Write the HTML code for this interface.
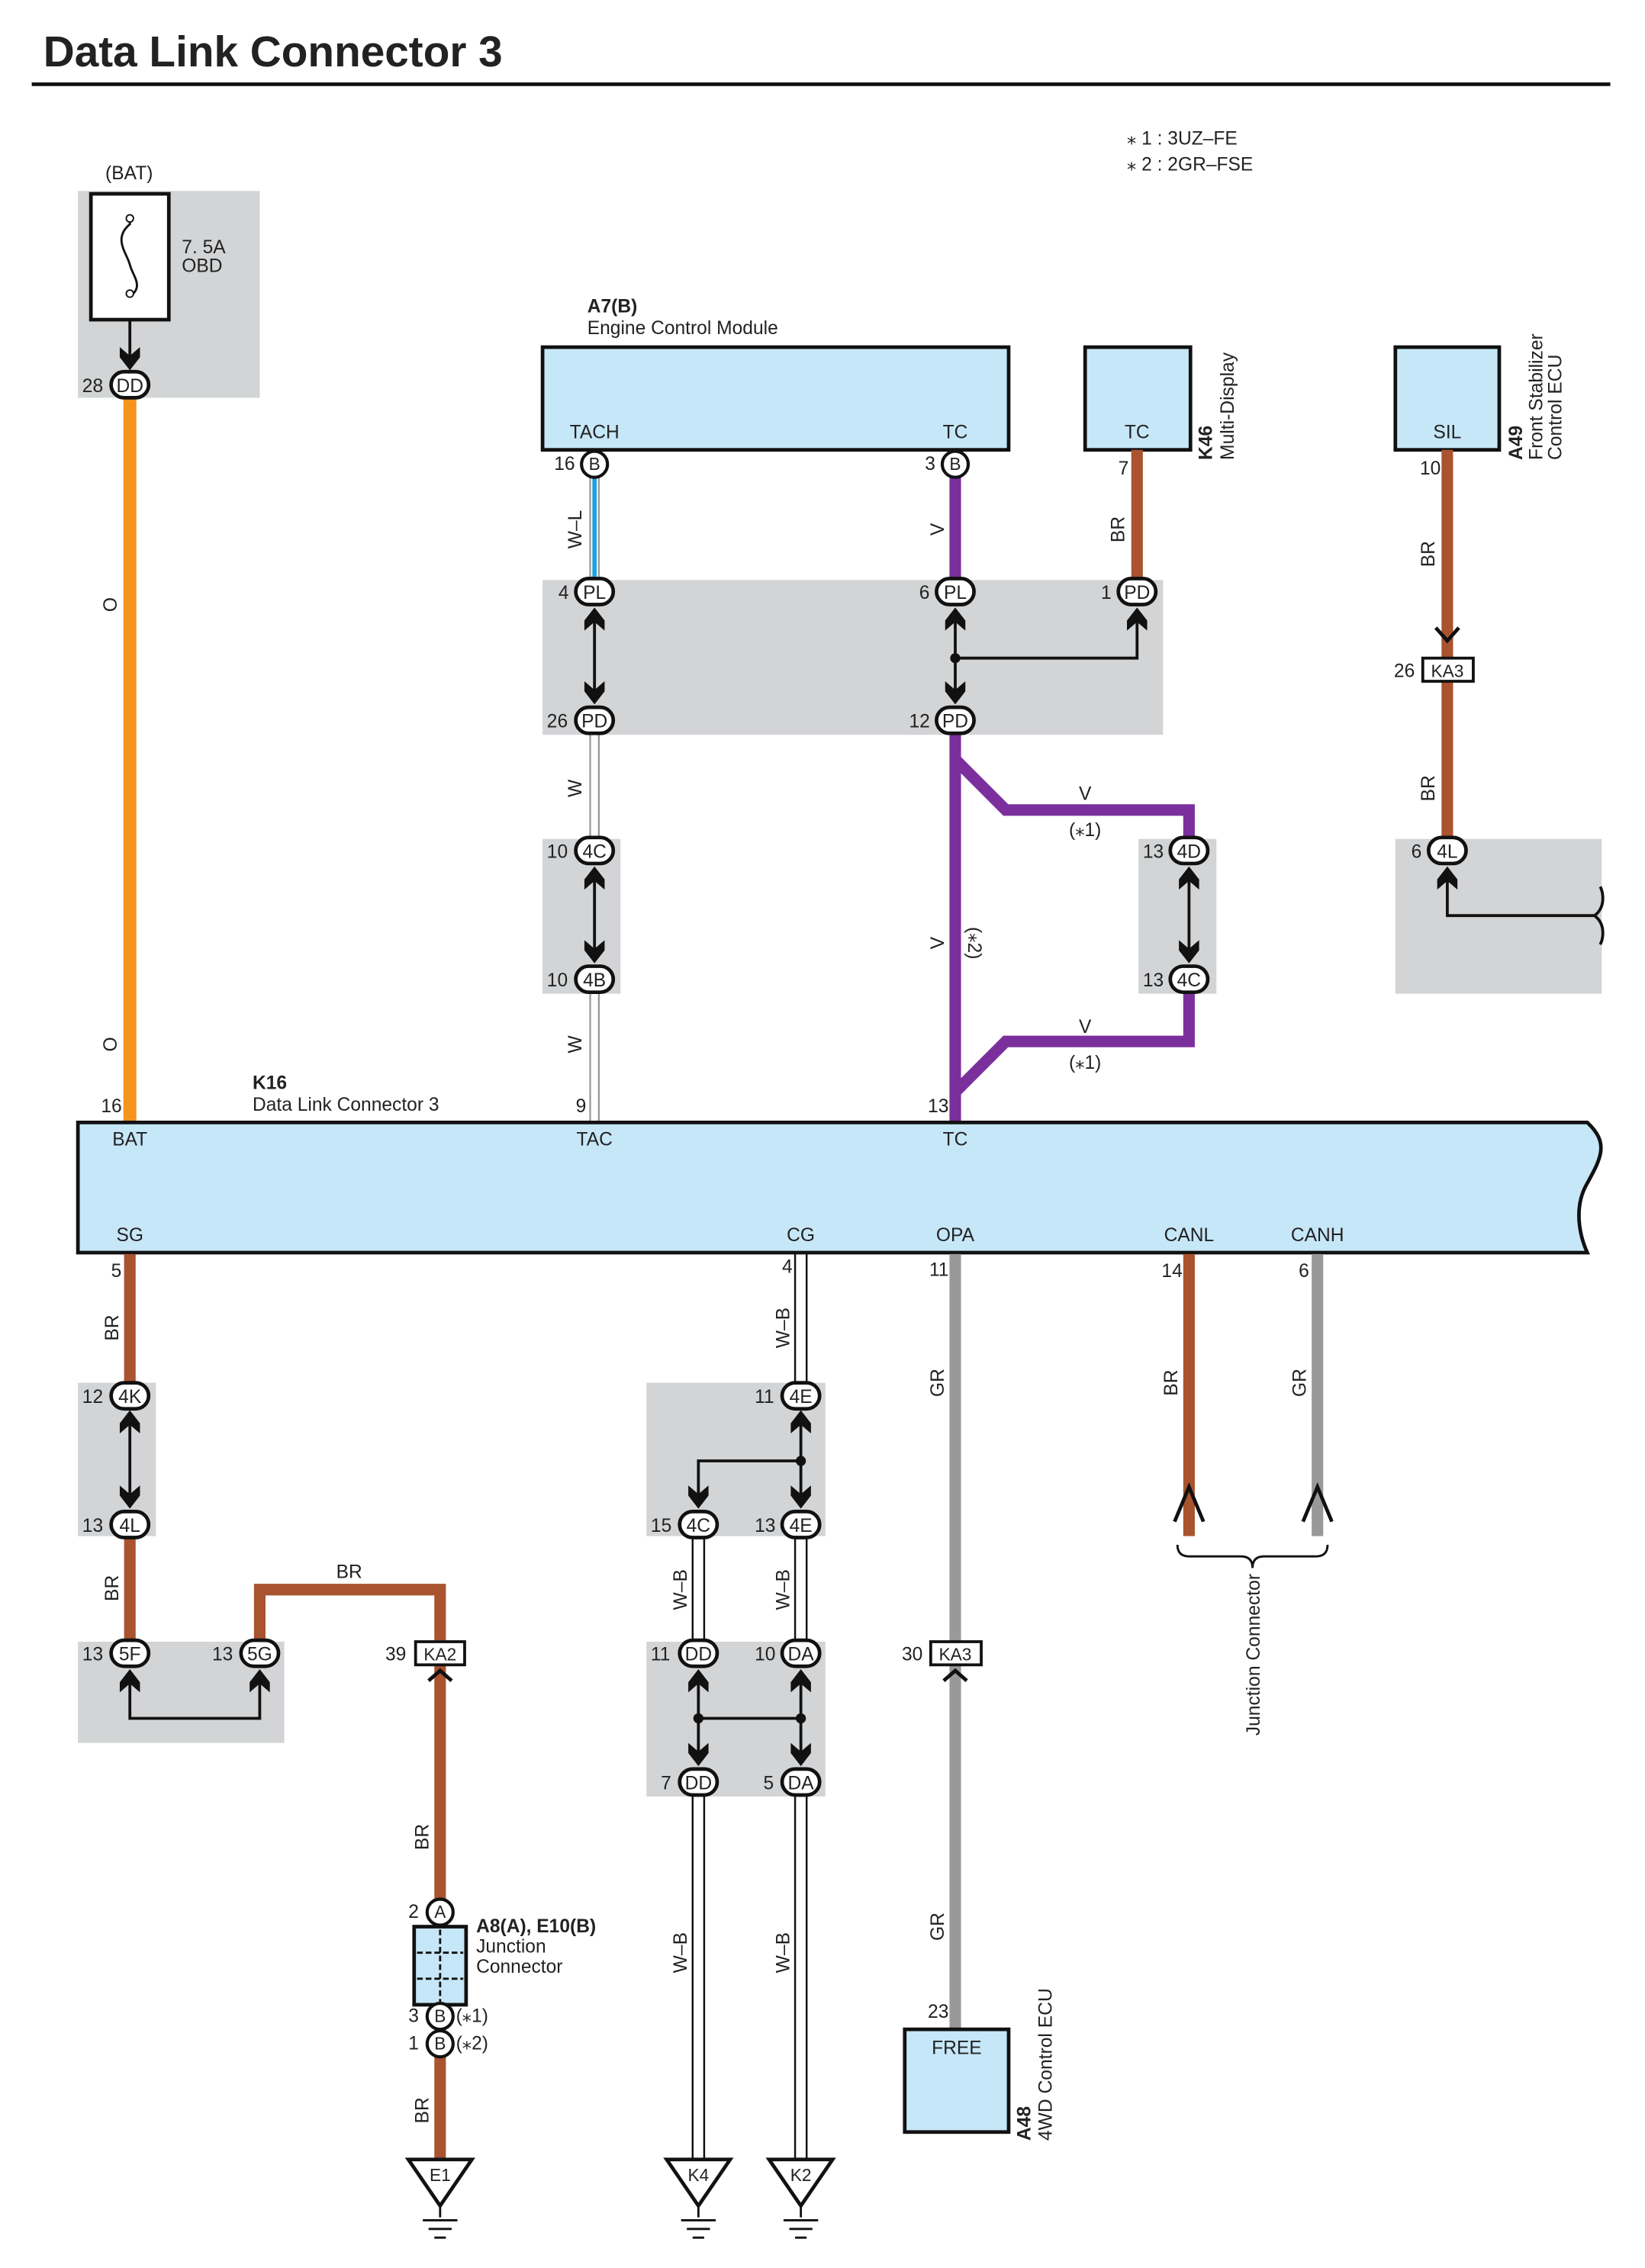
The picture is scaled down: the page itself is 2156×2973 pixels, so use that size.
<!DOCTYPE html>
<html><head><meta charset="utf-8"><style>
html,body{margin:0;padding:0;background:#fff}
svg{display:block}
text{font-family:"Liberation Sans",sans-serif;fill:#222}
</style></head><body>
<svg width="2156" height="2973" viewBox="0 0 1140 1568" preserveAspectRatio="none" xmlns="http://www.w3.org/2000/svg">
<defs>
<polygon id="au" points="0,0 7,9 7,16 0,10 -7,16 -7,9" fill="#111"/>
<polygon id="ad" points="0,0 7,-9 7,-16 0,-10 -7,-16 -7,-9" fill="#111"/>
<rect id="ov" x="-13" y="-9" width="26" height="18" rx="9" fill="#fff" stroke="#111" stroke-width="2.5"/>
<circle id="cb" r="9" fill="#fff" stroke="#111" stroke-width="2.2"/>
</defs>
<g font-size="13">
<text x="30" y="46" font-size="30" font-weight="bold" fill="#111">Data Link Connector 3</text>
<rect x="22" y="57" width="1094" height="2.5" fill="#111"/>
<text x="781" y="100">⁎ 1 : 3UZ–FE</text>
<text x="781" y="118">⁎ 2 : 2GR–FSE</text>

<g fill="#d3d4d6">
<rect x="54" y="132" width="126" height="143"/>
<rect x="376" y="401" width="430" height="107"/>
<rect x="376" y="580" width="54" height="107"/>
<rect x="789" y="580" width="54" height="107"/>
<rect x="967" y="580" width="143" height="107"/>
<rect x="54" y="956" width="54" height="106"/>
<rect x="54" y="1135" width="143" height="70"/>
<rect x="448" y="956" width="124" height="106"/>
<rect x="448" y="1135" width="124" height="107"/>
</g>

<text x="73" y="124">(BAT)</text>
<rect x="63" y="134" width="54" height="87" fill="#fff" stroke="#111" stroke-width="2.5"/>
<path d="M90 150 v5 c-12 10 -2 20 0 28 c2 8 10 15 0 22" fill="none" stroke="#111" stroke-width="1.5"/>
<circle cx="90" cy="151" r="2.5" fill="#fff" stroke="#111"/><circle cx="90" cy="203" r="2.5" fill="#fff" stroke="#111"/>
<text x="126" y="175">7. 5A</text><text x="126" y="188">OBD</text>
<line x1="90" y1="221" x2="90" y2="252" stroke="#111" stroke-width="2"/>
<use href="#ad" x="90" y="256"/>
<rect x="85.5" y="275" width="9" height="501" fill="#f7941d"/>
<use href="#ov" x="90" y="266"/><text x="90" y="271" text-anchor="middle">DD</text><text x="57" y="271">28</text>
<text transform="translate(81,418) rotate(-90)" text-anchor="middle">O</text>
<text transform="translate(81,722) rotate(-90)" text-anchor="middle">O</text>

<text x="407" y="216" font-weight="bold">A7(B)</text>
<text x="407" y="231">Engine Control Module</text>
<rect x="376" y="240" width="323" height="71" fill="#c6e7f8" stroke="#111" stroke-width="2.5"/>
<text x="412" y="303" text-anchor="middle">TACH</text><text x="662" y="303" text-anchor="middle">TC</text>
<rect x="752" y="240" width="73" height="71" fill="#c6e7f8" stroke="#111" stroke-width="2.5"/>
<text x="788" y="303" text-anchor="middle">TC</text>
<text transform="translate(840,318) rotate(-90)"><tspan font-weight="bold">K46</tspan></text>
<text transform="translate(855,318) rotate(-90)">Multi-Display</text>
<rect x="967" y="240" width="72" height="71" fill="#c6e7f8" stroke="#111" stroke-width="2.5"/>
<text x="1003" y="303" text-anchor="middle">SIL</text>
<text transform="translate(1055,318) rotate(-90)" font-weight="bold">A49</text>
<text transform="translate(1069,318) rotate(-90)">Front Stabilizer</text>
<text transform="translate(1082,318) rotate(-90)">Control ECU</text>

<g stroke="#999" stroke-width="1.2">
<line x1="409" y1="330" x2="409" y2="400"/><line x1="415" y1="330" x2="415" y2="400"/>
<line x1="409" y1="508" x2="409" y2="580"/><line x1="415" y1="508" x2="415" y2="580"/>
<line x1="409" y1="687" x2="409" y2="776"/><line x1="415" y1="687" x2="415" y2="776"/>
</g>
<line x1="412" y1="330" x2="412" y2="400" stroke="#1ba1e2" stroke-width="3"/>
<text transform="translate(403,366) rotate(-90)" text-anchor="middle">W–L</text>
<text transform="translate(403,545) rotate(-90)" text-anchor="middle">W</text>
<text transform="translate(403,722) rotate(-90)" text-anchor="middle">W</text>
<use href="#cb" x="412" y="321"/><text x="412" y="325" text-anchor="middle" font-size="12">B</text><text x="384" y="325">16</text>
<use href="#au" x="412" y="420"/><use href="#ad" x="412" y="487"/><line x1="412" y1="428" x2="412" y2="480" stroke="#111" stroke-width="2"/>
<use href="#ov" x="412" y="409"/><text x="412" y="414" text-anchor="middle">PL</text><text x="387" y="414">4</text>
<use href="#ov" x="412" y="498"/><text x="412" y="503" text-anchor="middle">PD</text><text x="379" y="503">26</text>
<use href="#au" x="412" y="599"/><use href="#ad" x="412" y="666"/><line x1="412" y1="607" x2="412" y2="659" stroke="#111" stroke-width="2"/>
<use href="#ov" x="412" y="588"/><text x="412" y="593" text-anchor="middle">4C</text><text x="379" y="593">10</text>
<use href="#ov" x="412" y="677"/><text x="412" y="682" text-anchor="middle">4B</text><text x="379" y="682">10</text>

<g fill="none" stroke="#7b2f9c" stroke-width="8">
<line x1="662" y1="330" x2="662" y2="400"/>
<line x1="662" y1="508" x2="662" y2="776"/>
<polyline points="662,525 697,560 824,560 824,580"/>
<polyline points="824,687 824,720 697,720 662,755"/>
</g>
<text transform="translate(654,366) rotate(-90)" text-anchor="middle">V</text>
<text transform="translate(654,652) rotate(-90)" text-anchor="middle">V</text>
<text transform="translate(671,652) rotate(90)" text-anchor="middle">(⁎2)</text>
<text x="752" y="553" text-anchor="middle">V</text><text x="752" y="578" text-anchor="middle">(⁎1)</text>
<text x="752" y="714" text-anchor="middle">V</text><text x="752" y="739" text-anchor="middle">(⁎1)</text>
<use href="#cb" x="662" y="321"/><text x="662" y="325" text-anchor="middle" font-size="12">B</text><text x="641" y="325">3</text>
<line x1="662" y1="428" x2="662" y2="480" stroke="#111" stroke-width="2"/>
<use href="#au" x="662" y="420"/><use href="#ad" x="662" y="487"/>
<circle cx="662" cy="455" r="3.5" fill="#111"/>
<polyline points="662,455 788,455 788,428" fill="none" stroke="#111" stroke-width="2"/>
<use href="#au" x="788" y="420"/>
<use href="#ov" x="662" y="409"/><text x="662" y="414" text-anchor="middle">PL</text><text x="637" y="414">6</text>
<use href="#ov" x="662" y="498"/><text x="662" y="503" text-anchor="middle">PD</text><text x="630" y="503">12</text>
<rect x="784" y="311" width="8" height="89" fill="#a9532f"/>
<text transform="translate(779,366) rotate(-90)" text-anchor="middle">BR</text><text x="775" y="328">7</text>
<use href="#ov" x="788" y="409"/><text x="788" y="414" text-anchor="middle">PD</text><text x="763" y="414">1</text>
<line x1="824" y1="607" x2="824" y2="659" stroke="#111" stroke-width="2"/>
<use href="#au" x="824" y="599"/><use href="#ad" x="824" y="666"/>
<use href="#ov" x="824" y="588"/><text x="824" y="593" text-anchor="middle">4D</text><text x="792" y="593">13</text>
<use href="#ov" x="824" y="677"/><text x="824" y="682" text-anchor="middle">4C</text><text x="792" y="682">13</text>

<rect x="999" y="311" width="8" height="268" fill="#a9532f"/>
<text transform="translate(994,383) rotate(-90)" text-anchor="middle">BR</text>
<text transform="translate(994,545) rotate(-90)" text-anchor="middle">BR</text><text x="984" y="328">10</text>
<polyline points="995,434 1003,443 1011,434 M995,441 1003,450 1011,441" fill="none" stroke="#111" stroke-width="2.5"/>
<rect x="986" y="455" width="35" height="16" fill="#fff" stroke="#111" stroke-width="2"/>
<text x="1003" y="468" text-anchor="middle" font-size="12">KA3</text><text x="966" y="468">26</text>
<polyline points="1003,605 1003,633 1105,633" fill="none" stroke="#111" stroke-width="2"/>
<use href="#au" x="1003" y="599"/>
<path d="M1105,633 c8,-6 6,-16 4,-20 M1105,633 c8,6 6,16 4,20" fill="none" stroke="#111" stroke-width="2"/>
<use href="#ov" x="1003" y="588"/><text x="1003" y="593" text-anchor="middle">4L</text><text x="978" y="593">6</text>

<text x="175" y="753" font-weight="bold">K16</text>
<text x="175" y="768">Data Link Connector 3</text>
<text x="70" y="769">16</text><text x="399" y="769">9</text><text x="643" y="769">13</text>
<path d="M54,776 H1100 C1115,790 1110,800 1100,818 C1090,835 1095,855 1100,866 H54 Z" fill="#c6e7f8" stroke="#111" stroke-width="2.5"/>
<text x="90" y="792" text-anchor="middle">BAT</text><text x="412" y="792" text-anchor="middle">TAC</text><text x="662" y="792" text-anchor="middle">TC</text>
<text x="90" y="858" text-anchor="middle">SG</text><text x="555" y="858" text-anchor="middle">CG</text><text x="662" y="858" text-anchor="middle">OPA</text><text x="824" y="858" text-anchor="middle">CANL</text><text x="913" y="858" text-anchor="middle">CANH</text>

<g fill="#a9532f">
<rect x="86" y="867" width="8" height="88"/><rect x="86" y="1062" width="8" height="72"/>
</g>
<polyline points="180,1134 180,1099 305,1099 305,1134" fill="none" stroke="#a9532f" stroke-width="8"/>
<rect x="301" y="1151" width="8" height="163" fill="#a9532f"/>
<rect x="301" y="1422" width="8" height="70" fill="#a9532f"/>
<text x="77" y="883">5</text>
<text transform="translate(82,918) rotate(-90)" text-anchor="middle">BR</text>
<text transform="translate(82,1098) rotate(-90)" text-anchor="middle">BR</text>
<text x="242" y="1091" text-anchor="middle">BR</text>
<text transform="translate(297,1270) rotate(-90)" text-anchor="middle">BR</text>
<text transform="translate(297,1459) rotate(-90)" text-anchor="middle">BR</text>
<line x1="90" y1="983" x2="90" y2="1035" stroke="#111" stroke-width="2"/>
<use href="#au" x="90" y="975"/><use href="#ad" x="90" y="1043"/>
<use href="#ov" x="90" y="965"/><text x="90" y="970" text-anchor="middle">4K</text><text x="57" y="970">12</text>
<use href="#ov" x="90" y="1054"/><text x="90" y="1059" text-anchor="middle">4L</text><text x="57" y="1059">13</text>
<polyline points="90,1162 90,1188 180,1188 180,1162" fill="none" stroke="#111" stroke-width="2"/>
<use href="#au" x="90" y="1154"/><use href="#au" x="180" y="1154"/>
<use href="#ov" x="90" y="1143"/><text x="90" y="1148" text-anchor="middle">5F</text><text x="57" y="1148">13</text>
<use href="#ov" x="180" y="1143"/><text x="180" y="1148" text-anchor="middle">5G</text><text x="147" y="1148">13</text>
<rect x="288" y="1135" width="34" height="16" fill="#fff" stroke="#111" stroke-width="2"/>
<text x="305" y="1148" text-anchor="middle" font-size="12">KA2</text><text x="267" y="1148">39</text>
<polyline points="297,1162 305,1155 313,1162 M297,1169 305,1162 313,1169" fill="none" stroke="#111" stroke-width="2.5"/>
<use href="#cb" x="305" y="1322"/><text x="305" y="1326" text-anchor="middle" font-size="12">A</text><text x="283" y="1326">2</text>
<rect x="287" y="1332" width="36" height="54" fill="#c6e7f8" stroke="#111" stroke-width="2.5"/>
<path d="M289,1350 H321 M289,1368 H321 M305,1334 V1384" stroke="#111" stroke-width="1.5" stroke-dasharray="4,2"/>
<text x="330" y="1336" font-weight="bold">A8(A), E10(B)</text>
<text x="330" y="1350">Junction</text><text x="330" y="1364">Connector</text>
<use href="#cb" x="305" y="1394"/><text x="305" y="1398" text-anchor="middle" font-size="12">B</text><text x="283" y="1398">3</text><text x="316" y="1398">(⁎1)</text>
<use href="#cb" x="305" y="1413"/><text x="305" y="1417" text-anchor="middle" font-size="12">B</text><text x="283" y="1417">1</text><text x="316" y="1417">(⁎2)</text>

<g fill="#fff" stroke="#111" stroke-width="2.5">
<polygon points="283,1493 327,1493 305,1525"/>
<polygon points="462,1493 506,1493 484,1525"/>
<polygon points="533,1493 577,1493 555,1525"/>
</g>
<g stroke="#111" stroke-width="1.5">
<path d="M305,1525 v8 M293,1535 h24 M297,1541 h16 M301,1547 h8"/>
<path d="M484,1525 v8 M472,1535 h24 M476,1541 h16 M480,1547 h8"/>
<path d="M555,1525 v8 M543,1535 h24 M547,1541 h16 M551,1547 h8"/>
</g>
<text x="305" y="1508" text-anchor="middle" font-size="12">E1</text>
<text x="484" y="1508" text-anchor="middle" font-size="12">K4</text>
<text x="555" y="1508" text-anchor="middle" font-size="12">K2</text>

<g stroke="#111" stroke-width="1.3">
<line x1="551" y1="867" x2="551" y2="956"/><line x1="559" y1="867" x2="559" y2="956"/>
<line x1="551" y1="1062" x2="551" y2="1135"/><line x1="559" y1="1062" x2="559" y2="1135"/>
<line x1="551" y1="1242" x2="551" y2="1492"/><line x1="559" y1="1242" x2="559" y2="1492"/>
<line x1="480" y1="1062" x2="480" y2="1135"/><line x1="488" y1="1062" x2="488" y2="1135"/>
<line x1="480" y1="1242" x2="480" y2="1492"/><line x1="488" y1="1242" x2="488" y2="1492"/>
</g>
<text x="542" y="880">4</text>
<text transform="translate(547,918) rotate(-90)" text-anchor="middle">W–B</text>
<text transform="translate(547,1099) rotate(-90)" text-anchor="middle">W–B</text>
<text transform="translate(476,1099) rotate(-90)" text-anchor="middle">W–B</text>
<text transform="translate(476,1350) rotate(-90)" text-anchor="middle">W–B</text>
<text transform="translate(547,1350) rotate(-90)" text-anchor="middle">W–B</text>
<g stroke="#111" stroke-width="2" fill="none">
<line x1="555" y1="983" x2="555" y2="1035"/>
<polyline points="555,1010 484,1010 484,1035"/>
<line x1="484" y1="1162" x2="484" y2="1213"/><line x1="555" y1="1162" x2="555" y2="1213"/>
<line x1="484" y1="1188" x2="555" y2="1188"/>
</g>
<circle cx="555" cy="1010" r="3.5" fill="#111"/><circle cx="484" cy="1188" r="3.5" fill="#111"/><circle cx="555" cy="1188" r="3.5" fill="#111"/>
<use href="#au" x="555" y="975"/><use href="#ad" x="555" y="1043"/><use href="#ad" x="484" y="1043"/>
<use href="#au" x="484" y="1154"/><use href="#au" x="555" y="1154"/><use href="#ad" x="484" y="1221"/><use href="#ad" x="555" y="1221"/>
<use href="#ov" x="555" y="965"/><text x="555" y="970" text-anchor="middle">4E</text><text x="523" y="970">11</text>
<use href="#ov" x="484" y="1054"/><text x="484" y="1059" text-anchor="middle">4C</text><text x="451" y="1059">15</text>
<use href="#ov" x="555" y="1054"/><text x="555" y="1059" text-anchor="middle">4E</text><text x="523" y="1059">13</text>
<use href="#ov" x="484" y="1143"/><text x="484" y="1148" text-anchor="middle">DD</text><text x="451" y="1148">11</text>
<use href="#ov" x="555" y="1143"/><text x="555" y="1148" text-anchor="middle">DA</text><text x="523" y="1148">10</text>
<use href="#ov" x="484" y="1232"/><text x="484" y="1237" text-anchor="middle">DD</text><text x="458" y="1237">7</text>
<use href="#ov" x="555" y="1232"/><text x="555" y="1237" text-anchor="middle">DA</text><text x="529" y="1237">5</text>

<rect x="658" y="867" width="8" height="268" fill="#999"/>
<rect x="658" y="1151" width="8" height="252" fill="#999"/>
<text x="644" y="882">11</text>
<text transform="translate(654,956) rotate(-90)" text-anchor="middle">GR</text>
<text transform="translate(654,1332) rotate(-90)" text-anchor="middle">GR</text>
<rect x="645" y="1135" width="35" height="16" fill="#fff" stroke="#111" stroke-width="2"/>
<text x="662" y="1148" text-anchor="middle" font-size="12">KA3</text><text x="625" y="1148">30</text>
<polyline points="654,1162 662,1155 670,1162 M654,1169 662,1162 670,1169" fill="none" stroke="#111" stroke-width="2.5"/>
<text x="643" y="1395">23</text>
<rect x="627" y="1403" width="72" height="71" fill="#c6e7f8" stroke="#111" stroke-width="2.5"/>
<text x="663" y="1420" text-anchor="middle">FREE</text>
<text transform="translate(714,1480) rotate(-90)" font-weight="bold">A48</text>
<text transform="translate(729,1480) rotate(-90)">4WD Control ECU</text>

<rect x="820" y="867" width="8" height="195" fill="#a9532f"/>
<rect x="909" y="867" width="8" height="195" fill="#999"/>
<text x="805" y="883">14</text><text x="900" y="883">6</text>
<text transform="translate(816,956) rotate(-90)" text-anchor="middle">BR</text>
<text transform="translate(905,956) rotate(-90)" text-anchor="middle">GR</text>
<polyline points="814,1052 824,1028 834,1052" fill="none" stroke="#111" stroke-width="2.5"/>
<polyline points="903,1052 913,1028 923,1052" fill="none" stroke="#111" stroke-width="2.5"/>
<path d="M816,1068 q0,8 8,8 h36 q8,0 8,8 q0,-8 8,-8 h36 q8,0 8,-8" fill="none" stroke="#111" stroke-width="1.5"/>
<text transform="translate(873,1200) rotate(-90)">Junction Connector</text>
</g>
</svg>
</body></html>
